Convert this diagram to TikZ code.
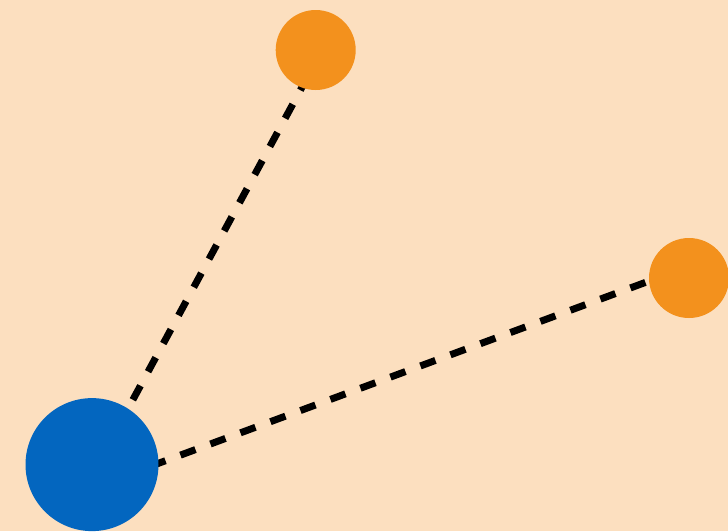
\documentclass[tikz,border=0pt]{standalone}
\usetikzlibrary{backgrounds}
\definecolor{bgpeach}{RGB}{252,223,191}
\definecolor{hubblue}{RGB}{3,102,191}
\definecolor{leaforange}{RGB}{243,145,29}
\begin{document}
\begin{tikzpicture}[x=1pt,y=-1pt,
  hub/.style={circle,fill=hubblue,inner sep=0pt,minimum size=133pt},
  leaf/.style={circle,fill=leaforange,inner sep=0pt,minimum size=80pt},
  link/.style={line width=7pt,dash pattern=on 16pt off 16pt}]
\useasboundingbox (0,0) rectangle (728,531);
\node[hub] (hub) at (92,464.6) {};
\node[leaf] (top) at (315.7,50) {};
\node[leaf] (right) at (689,278) {};
\coordinate (topin) at (322.1,50);
\coordinate (hubtop) at (116.5,430);
\coordinate (hubright) at (120,477.6);
\coordinate (rightin) at (689,266.2);
\begin{scope}[on background layer]
\fill[bgpeach] (0,0) rectangle (728,531);
\draw[link,dash phase=2.3pt] (topin) -- (hubtop);
\draw[link,dash phase=31.5pt] (hubright) -- (rightin);
\end{scope}
\end{tikzpicture}
\end{document}
